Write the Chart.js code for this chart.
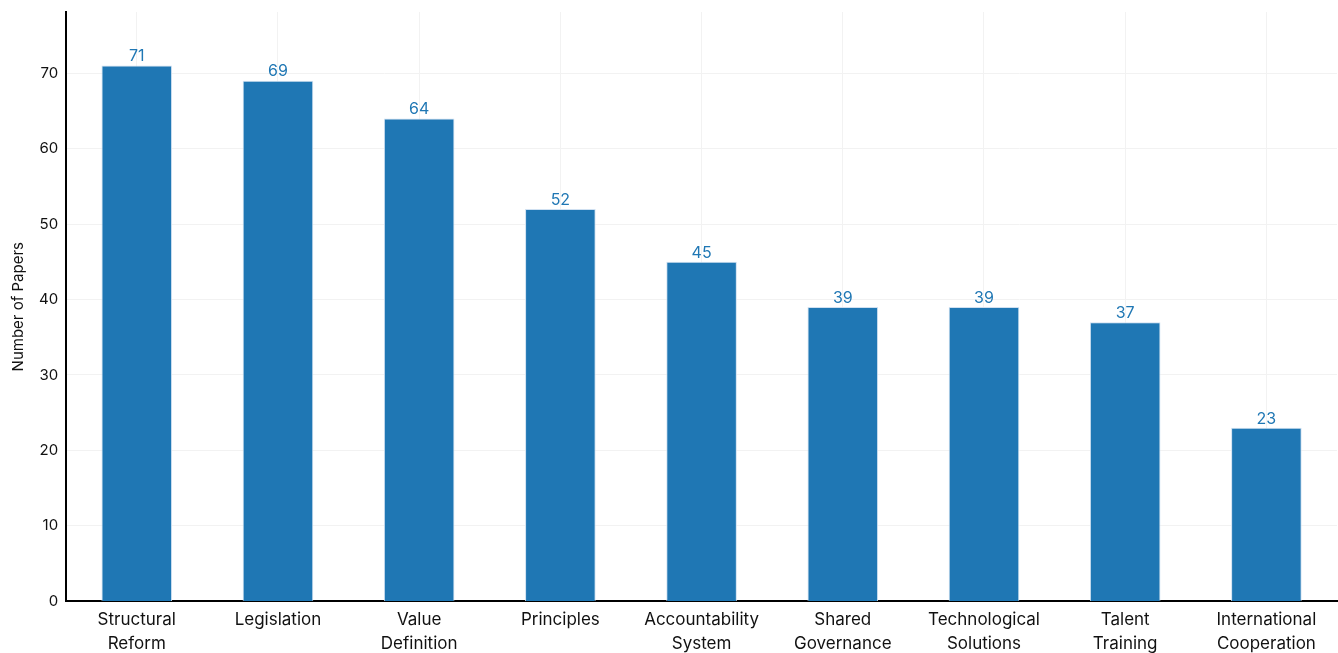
<!DOCTYPE html>
<html>
<head>
<meta charset="utf-8">
<script src="https://cdn.jsdelivr.net/npm/chart.js@4"></script>
<style>
  html, body { margin: 0; padding: 0; background: #fff; }
  #wrap { width: 1338px; height: 653px; }
</style>
</head>
<body>
<div id="wrap"><canvas id="chart" width="1338" height="653"></canvas></div>
<script>
// categories and counts
const categories = [
    ['Structural', 'Reform'], 'Legislation', ['Value', 'Definition'], 'Principles',
    ['Accountability', 'System'], ['Shared', 'Governance'], ['Technological', 'Solutions'],
    ['Talent', 'Training'], ['International', 'Cooperation']
];
const paperCounts = [71, 69, 64, 52, 45, 39, 39, 37, 23];
const yMax = 78.1;

const barColor = '#1f77b4';
const fontFamily = 'Inter, "Open Sans", sans-serif';

// values above bars
const valueLabels = {
    id: 'valueLabels',
    afterDatasetsDraw(chart) {
        const ctx = chart.ctx;
        const meta = chart.getDatasetMeta(0);
        ctx.save();
        ctx.fillStyle = barColor;
        ctx.font = '16px ' + fontFamily;
        ctx.textAlign = 'center';
        ctx.textBaseline = 'bottom';
        meta.data.forEach((bar, i) => {
            ctx.fillText(String(paperCounts[i]), bar.x, bar.y - 1);
        });
        ctx.restore();
    }
};

new Chart(document.getElementById('chart').getContext('2d'), {
    type: 'bar',
    data: {
        labels: categories,
        datasets: [{
            data: paperCounts,
            backgroundColor: barColor,
            borderColor: '#cfe0f1',
            borderWidth: 1,
            categoryPercentage: 1,
            barPercentage: 0.5
        }]
    },
    options: {
        responsive: false,
        animation: false,
        layout: { padding: { top: 12, right: 1, left: 0, bottom: -10 } },
        plugins: {
            legend: { display: false },
            tooltip: { enabled: false }
        },
        scales: {
            x: {
                grid: {
                    offset: false,
                    color: '#f2f2f2',
                    drawTicks: false
                },
                border: { color: '#000', width: 2 },
                ticks: {
                    color: '#111',
                    padding: 7,
                    maxRotation: 0,
                    autoSkip: false,
                    font: { family: fontFamily, size: 17, lineHeight: 1.4 }
                }
            },
            y: {
                min: 0,
                max: yMax,
                afterFit: (s) => { s.paddingTop = 0; },
                grid: {
                    color: (c) => (c.tick && c.tick.value % 10 === 0 ? '#f2f2f2' : 'rgba(0,0,0,0)'),
                    drawTicks: false
                },
                border: { color: '#000', width: 2 },
                ticks: {
                    stepSize: 10,
                    color: '#111',
                    padding: 8,
                    font: { family: fontFamily, size: 15 },
                    callback: (v) => (v % 10 === 0 ? v : '')
                },
                title: {
                    display: true,
                    text: 'Number of Papers',
                    color: '#111',
                    padding: { top: 9, bottom: 4 },
                    font: { family: fontFamily, size: 15 }
                }
            }
        }
    },
    plugins: [valueLabels]
});
</script>
</body>
</html>
